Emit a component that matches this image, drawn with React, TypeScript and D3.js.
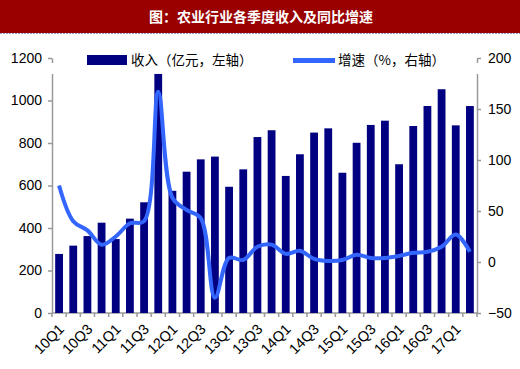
import React, { useEffect, useRef } from 'react';
import * as d3 from 'd3';

const quarters = [
  '10Q1', '10Q2', '10Q3', '10Q4', '11Q1', '11Q2', '11Q3', '11Q4',
  '12Q1', '12Q2', '12Q3', '12Q4', '13Q1', '13Q2', '13Q3', '13Q4',
  '14Q1', '14Q2', '14Q3', '14Q4', '15Q1', '15Q2', '15Q3', '15Q4',
  '16Q1', '16Q2', '16Q3', '16Q4', '17Q1', '17Q2'
];

// 收入（亿元）
const revenue = [
  278, 317, 362, 425, 348, 444, 521, 1125,
  575, 665, 723, 736, 594, 676, 828, 860,
  645, 747, 849, 869, 660, 801, 885, 905,
  700, 880, 974, 1053, 883, 974
];

// 增速（%）
const growth = [
  75, 40, 31, 17, 25, 38, 40, 167,
  63, 51, 43, -35, 4, 2, 15, 17,
  8, 11, 3, 1, 2, 7, 4, 4,
  6, 9, 10, 15, 27, 10
];

const leftTicks = [0, 200, 400, 600, 800, 1000, 1200];
const rightTicks = [-50, 0, 50, 100, 150, 200];

const title = '图：农业行业各季度收入及同比增速';
const legendBar = '收入（亿元，左轴）';
const legendLine = '增速（%，右轴）';

const W = 520;
const H = 369;

export default function App() {
  const svgRef = useRef<SVGSVGElement>(null);

  useEffect(() => {
    if (!svgRef.current) return;
    const svg = d3.select(svgRef.current);
    svg.selectAll('*').remove();

    const margin = { top: 58, right: 43, bottom: 56, left: 52 };
    const plotW = W - margin.left - margin.right;
    const plotH = H - margin.top - margin.bottom;

    const barColor = '#000080';
    const lineColor = '#3366ff';
    const axisColor = '#999999';
    const font = '"Liberation Sans", Arial, sans-serif';
    const cjk = '"Noto Sans CJK SC", sans-serif';

    // title bar
    svg.append('rect').attr('x', 0).attr('y', 0).attr('width', W).attr('height', 33).attr('fill', '#990000');
    svg.append('line')
      .attr('x1', 0).attr('x2', W).attr('y1', 33.5).attr('y2', 33.5)
      .attr('stroke', '#9999cc').attr('stroke-width', 1).attr('stroke-dasharray', '2,1');
    svg.append('text')
      .attr('x', 261).attr('y', 21.5)
      .attr('text-anchor', 'middle')
      .attr('fill', '#fff')
      .attr('font-family', cjk)
      .attr('font-weight', 'bold')
      .attr('font-size', 14)
      .text(title);

    const g = svg.append('g').attr('transform', `translate(${margin.left},${margin.top})`);

    const x = d3.scaleBand<string>().domain(quarters).range([0, plotW]).paddingInner(0.45).paddingOuter(0.225);
    const yL = d3.scaleLinear().domain([0, 1200]).range([plotH, 0]);
    const yR = d3.scaleLinear().domain([-50, 200]).range([plotH, 0]);

    // left axis
    const left = g.append('g')
      .call(d3.axisLeft(yL).tickValues(leftTicks).tickFormat(d3.format('d')).tickSize(4).tickSizeOuter(0).tickPadding(6));
    left.select('.domain').attr('stroke', axisColor).attr('stroke-width', 1.5);
    left.selectAll('line').attr('stroke', axisColor).attr('stroke-width', 1.5);
    left.selectAll('text').attr('font-family', font).attr('font-size', 14).attr('fill', '#000');

    // right axis
    const right = g.append('g')
      .attr('transform', `translate(${plotW},0)`)
      .call(d3.axisRight(yR).tickValues(rightTicks).tickFormat(d3.format('d')).tickSize(4).tickSizeOuter(0).tickPadding(7));
    right.select('.domain').attr('stroke', axisColor).attr('stroke-width', 1.5);
    right.selectAll('line').attr('stroke', axisColor).attr('stroke-width', 1.5);
    right.selectAll('text').attr('font-family', font).attr('font-size', 14).attr('fill', '#000');

    // x axis line + ticks at band boundaries
    const step = x.step();
    const xAxis = g.append('g').attr('transform', `translate(0,${plotH})`);
    xAxis.append('line')
      .attr('x1', 0).attr('x2', plotW).attr('y1', 0).attr('y2', 0)
      .attr('stroke', axisColor).attr('stroke-width', 1.5);
    xAxis.selectAll('line.tick')
      .data(d3.range(quarters.length + 1))
      .join('line')
      .attr('class', 'tick')
      .attr('x1', (i) => i * step).attr('x2', (i) => i * step)
      .attr('y1', 0).attr('y2', 4)
      .attr('stroke', axisColor).attr('stroke-width', 1.5);
    xAxis.selectAll('text')
      .data(quarters.filter((_, i) => i % 2 === 0))
      .join('text')
      .attr('transform', (d) => `translate(${(x(d) as number) + x.bandwidth() / 2 + 6},${17}) rotate(-45)`)
      .attr('text-anchor', 'end')
      .attr('font-family', font)
      .attr('font-size', 14.5)
      .attr('fill', '#000')
      .text((d) => d);

    // legend background hides axis tops
    g.append('rect')
      .attr('x', -4).attr('y', 5).attr('width', plotW + 8).attr('height', 11)
      .attr('fill', '#fff');

    // bars
    g.selectAll('rect.bar')
      .data(quarters)
      .join('rect')
      .attr('class', 'bar')
      .attr('x', (d) => x(d) as number)
      .attr('width', x.bandwidth())
      .attr('y', (_, i) => yL(revenue[i]))
      .attr('height', (_, i) => plotH - yL(revenue[i]))
      .attr('fill', barColor);

    // growth line
    const line = d3.line<number>()
      .x((_, i) => (x(quarters[i]) as number) + x.bandwidth() / 2)
      .y((d) => yR(d))
      .curve(d3.curveCatmullRom.alpha(0.5));

    g.append('path')
      .datum(growth)
      .attr('fill', 'none')
      .attr('stroke', lineColor)
      .attr('stroke-width', 4)
      .attr('stroke-linejoin', 'round')
      .attr('d', line);

    // legend
    svg.append('rect').attr('x', 87).attr('y', 55).attr('width', 40).attr('height', 10).attr('fill', barColor);
    svg.append('text')
      .attr('x', 131).attr('y', 65)
      .attr('font-family', cjk).attr('font-size', 13.5).attr('fill', '#000')
      .text(legendBar);
    svg.append('rect').attr('x', 293).attr('y', 58).attr('width', 42).attr('height', 5).attr('fill', lineColor);
    svg.append('text')
      .attr('x', 338).attr('y', 65)
      .attr('font-family', cjk).attr('font-size', 13.5).attr('fill', '#000')
      .text(legendLine);
  }, []);

  return (
    <svg
      ref={svgRef}
      width={W}
      height={H}
      style={{ position: 'absolute', left: 0, top: 0, background: '#fff' }}
    />
  );
}
